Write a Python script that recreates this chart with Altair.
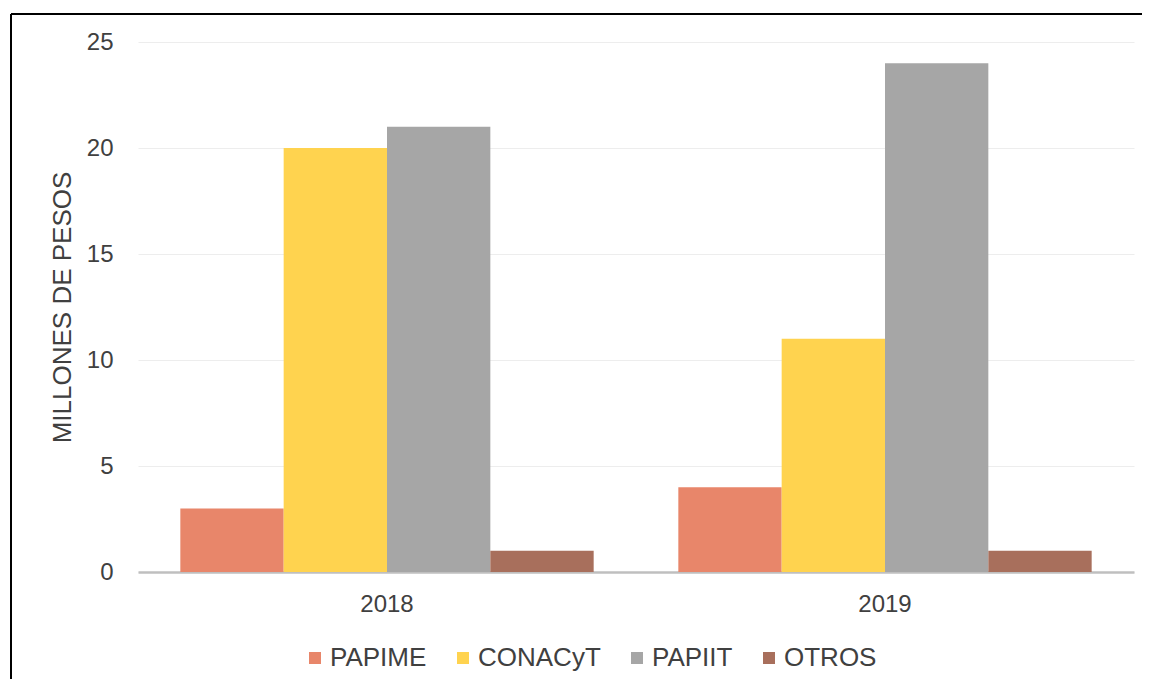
import altair as alt
import pandas as pd

years = ["2018", "2019"]
programs = ["PAPIME", "CONACyT", "PAPIIT", "OTROS"]
colors = ["#E8866A", "#FFD34F", "#A6A6A6", "#A86F5C"]
values_2018 = [3, 20, 21, 1]
values_2019 = [4, 11, 24, 1]

rows = []
for y, vals in zip(years, [values_2018, values_2019]):
    for p, v in zip(programs, vals):
        rows.append({"year": y, "program": p, "value": v})
df = pd.DataFrame(rows)

FONT = "Liberation Sans"

bars = alt.Chart(df).mark_bar().encode(
    x=alt.X("year:N", sort=years,
            scale=alt.Scale(paddingInner=0.17, paddingOuter=0.085),
            axis=alt.Axis(title=None, labelAngle=0, labelFontSize=24, labelColor="#404040",
                          labelFont=FONT, ticks=False, tickSize=0, labelPadding=20,
                          domain=True, domainColor="#BFBFBF", domainWidth=2.5, grid=False)),
    xOffset=alt.XOffset("program:N", sort=programs, scale=alt.Scale(paddingInner=0, paddingOuter=0)),
    y=alt.Y("value:Q", scale=alt.Scale(domain=[0, 25], nice=False),
            axis=alt.Axis(title="MILLONES DE PESOS", values=[0, 5, 10, 15, 20, 25],
                          labelFontSize=24, labelColor="#404040", labelFont=FONT,
                          labelPadding=25, ticks=False, tickSize=0, domain=False,
                          grid=True, gridColor="#EDEDED", gridWidth=1,
                          titleFontSize=26, titleFont=FONT, titleFontWeight="normal",
                          titleColor="#404040", titleAngle=270, titleX=-76, titleY=265,
                          titleAlign="center", titleBaseline="middle")),
    color=alt.Color("program:N", sort=programs,
                    scale=alt.Scale(domain=programs, range=colors),
                    legend=alt.Legend(title=None, orient="none", direction="horizontal",
                                      legendX=164, legendY=603, symbolType="square",
                                      symbolSize=144, symbolStrokeWidth=0,
                                      labelFontSize=26, labelFont=FONT, labelColor="#404040",
                                      labelOffset=2, columnPadding=23, labelLimit=300)),
)

frame_df = pd.DataFrame({"k": [0]})
top_line = alt.Chart(frame_df).mark_rule(color="#000000", strokeWidth=2).encode(
    x=alt.value(-127), x2=alt.value(1010), y=alt.value(-28))
left_line = alt.Chart(frame_df).mark_rule(color="#000000", strokeWidth=2).encode(
    x=alt.value(-127), y=alt.value(-28), y2=alt.value(640))

chart = alt.layer(bars, top_line, left_line).properties(
    width=996, height=530,
    autosize=alt.AutoSizeParams(type="none"),
    padding={"left": 130, "top": 34, "right": 8, "bottom": 107},
).configure(background="white", view=alt.ViewConfig(stroke="transparent"))

chart.save("out.html", embed_options={"renderer": "svg", "actions": False})
